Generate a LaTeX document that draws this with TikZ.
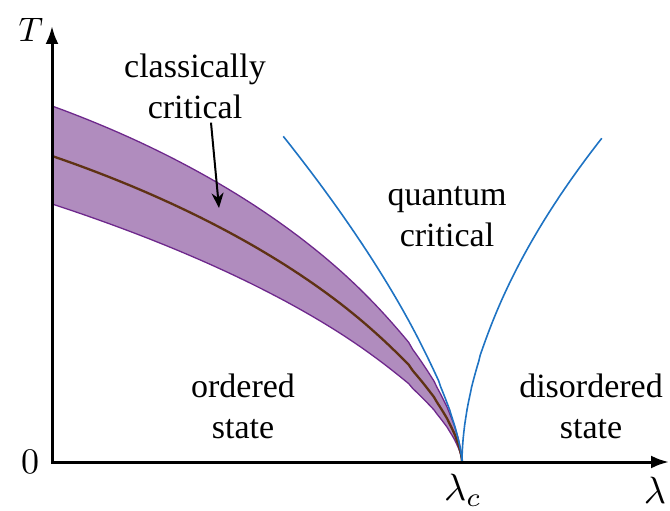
\documentclass[tikz,border=0pt]{standalone}
\usepackage{graphicx}
\usepackage{fontspec}
\setmainfont{Liberation Serif}
\usetikzlibrary{arrows.meta}

\definecolor{bandfill}{RGB}{176,140,190}
\definecolor{bandedge}{RGB}{110,40,140}
\definecolor{midline}{RGB}{95,50,20}
\definecolor{qcblue}{RGB}{30,115,195}
\newcommand{\bigmath}[2]{\scalebox{#1}{\fontsize{10}{12}\selectfont$#2$}}

\begin{document}
\begin{tikzpicture}[x=1pt, y=-1pt, font=\fontsize{34}{41}\selectfont]
\tikzstyle{label}=[align=center, inner sep=0pt]
\tikzstyle{axislabel}=[inner sep=1pt]
\tikzstyle{axis}=[-{Latex[length=18pt,width=13pt]}, line width=3pt, line cap=rect]
\tikzstyle{edge}=[draw=bandedge, line width=1.3pt]
\tikzstyle{crossover}=[draw=qcblue, line width=1.6pt]
\tikzstyle{pointer}=[-{Stealth[length=15pt,width=12pt]}, line width=2pt]
\tikzstyle{curve}=[variable=\t, samples=70]
\useasboundingbox (0,0) rectangle (670,511);
\coordinate (o) at (52,462);
\coordinate (lc) at (462,462);
\coordinate (tmax) at (52,26);
\coordinate (lmax) at (669,462);
\coordinate (ccTip) at (219,208);
% classically critical band
\fill[bandfill] (lc)
  -- plot[curve, domain=0.02:1] ({462-410*\t*\t},{462-356*(\t*\t)^0.62*(1+0.2*(1-\t*\t))})
  -- plot[curve, domain=1:0.02] ({462-410*\t*\t},{462-258*(\t*\t)^0.64*(1+0.12*(1-\t*\t))})
  -- cycle;
\draw[edge] (lc) -- plot[curve, domain=0.02:1] ({462-410*\t*\t},{462-356*(\t*\t)^0.62*(1+0.2*(1-\t*\t))});
\draw[edge] (lc) -- plot[curve, domain=0.02:1] ({462-410*\t*\t},{462-258*(\t*\t)^0.64*(1+0.12*(1-\t*\t))});
\draw[midline, line width=2.3pt] (lc) -- plot[curve, domain=0.02:1] ({462-410*\t*\t},{462-306*(\t*\t)^0.64*(1+0.18*(1-\t*\t))});
% quantum critical crossover lines
\draw[crossover] (lc) -- plot[curve, domain=0.02:1] ({462-179*\t*\t},{462-326*(\t*\t)^0.69});
\draw[crossover] (lc) -- plot[curve, domain=0.02:1] ({462+140*\t*\t},{462-324*(\t*\t)^0.55});
% axes
\draw[axis] (o) -- (tmax);
\draw[axis] (o) -- (lmax);
\node[axislabel] (tl) at (31,30) {\bigmath{3.4}{T}};
\node[axislabel] (zero) at (30,462) {\bigmath{3.6}{0}};
\node[axislabel] (lcl) at (463,490) {\bigmath{3.8}{\lambda_c}};
\node[axislabel] (ll) at (655,490) {\bigmath{3.8}{\lambda}};
% region labels
\node[label] (cc) at (195,86) {classically\\critical};
\node[label] (qc) at (447,217) {quantum\\critical};
\node[label] (ord) at (243,406) {ordered\\state};
\node[label] (dis) at (591,406) {disordered\\state};
\draw[pointer] ([xshift=16pt,yshift=-4pt]cc.south) -- (ccTip);
\end{tikzpicture}
\end{document}
